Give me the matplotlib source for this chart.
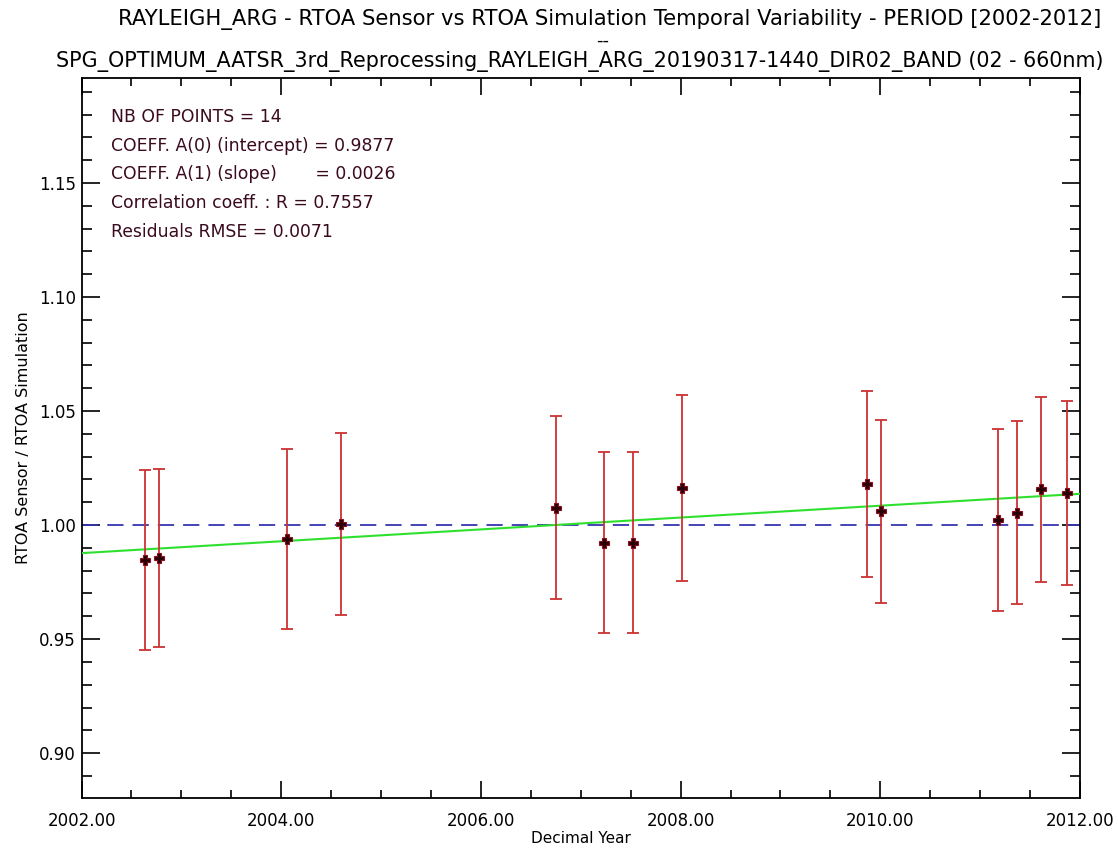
import matplotlib
matplotlib.use("Agg")
import matplotlib.pyplot as plt
import numpy as np
from matplotlib.ticker import MultipleLocator, FormatStrFormatter

# decimal year, ratio sensor/simulation, half error bar
years = [2002.636, 2002.779, 2004.058, 2004.599, 2006.749, 2007.236, 2007.523,
         2008.010, 2009.869, 2010.003, 2011.181, 2011.367, 2011.614, 2011.865]
ratio = [0.9846, 0.9857, 0.9939, 1.0004, 1.0076, 0.9923, 0.9923,
         1.0163, 1.0179, 1.0060, 1.0022, 1.0054, 1.0157, 1.0141]
err = [0.0394, 0.0391, 0.0396, 0.0399, 0.0402, 0.0397, 0.0397,
       0.0408, 0.0408, 0.0402, 0.0399, 0.0401, 0.0406, 0.0404]

# fit coefficients shown on the plot (x relative to 2002)
a0 = 0.9877
a1 = 0.0026

stats = ["NB OF POINTS = 14",
         "COEFF. A(0) (intercept) = 0.9877",
         "COEFF. A(1) (slope)       = 0.0026",
         "Correlation coeff. : R = 0.7557",
         "Residuals RMSE = 0.0071"]

title1 = "RAYLEIGH_ARG - RTOA Sensor vs RTOA Simulation Temporal Variability - PERIOD [2002-2012]"
title2 = "SPG_OPTIMUM_AATSR_3rd_Reprocessing_RAYLEIGH_ARG_20190317-1440_DIR02_BAND (02 - 660nm)"

plt.rcParams['font.family'] = ['DejaVu Sans']

fig = plt.figure(figsize=(11.18, 8.48), dpi=100)
ax = fig.add_axes([0.0729, 0.0589, 0.8931, 0.849])

ax.set_xlim(2002, 2012)
ax.set_ylim(0.8803, 1.196)

# reference line at 1 and linear fit
ax.axhline(1.0, color='#3535b0', lw=1.3, ls=(0, (9, 5)), zorder=2)
xf = np.array([2002.0, 2012.0])
ax.plot(xf, a0 + a1 * (xf - 2002), color='#2ee02e', lw=1.5, zorder=3)

ax.errorbar(years, ratio, yerr=err, fmt='none', ecolor='#cc3333',
            elinewidth=1.3, capsize=4.5, capthick=1.3, zorder=4)
ax.plot(years, ratio, ls='none', marker='P', ms=7.5, color='#2a0008',
        mec='#8a1020', mew=0.8, zorder=5)

ax.xaxis.set_major_locator(MultipleLocator(2))
ax.xaxis.set_minor_locator(MultipleLocator(0.5))
ax.yaxis.set_major_locator(MultipleLocator(0.05))
ax.yaxis.set_minor_locator(MultipleLocator(0.01))
ax.xaxis.set_major_formatter(FormatStrFormatter('%.2f'))
ax.yaxis.set_major_formatter(FormatStrFormatter('%.2f'))

ax.tick_params(which='both', direction='in', top=True, right=True,
               labelsize=12, width=1.2)
ax.tick_params(axis='y', which='major', length=13, pad=4)
ax.tick_params(axis='y', which='minor', length=7)
ax.tick_params(axis='x', which='major', length=12, pad=10)
ax.tick_params(axis='x', which='minor', length=6)
for s in ax.spines.values():
    s.set_linewidth(1.3)

ax.set_xlabel("Decimal Year", fontsize=11, labelpad=1)
ax.set_ylabel("RTOA Sensor / RTOA Simulation", fontsize=11.5, labelpad=6)

for i, line in enumerate(stats):
    ax.text(110.7 / 1118, 1 - (117 + 28.7 * i) / 848, line, transform=fig.transFigure,
            fontsize=12.4, color='#3a0a1e', va='center', ha='left')

fig.text(0.5456, 1 - 20 / 848, title1, fontsize=15.2, ha='center', va='center')
fig.text(0.539, 1 - 41 / 848, "--", fontsize=13, ha='center', va='center')
fig.text(0.519, 1 - 62 / 848, title2, fontsize=14.9, ha='center', va='center')

fig.savefig("out.png", dpi=100)
